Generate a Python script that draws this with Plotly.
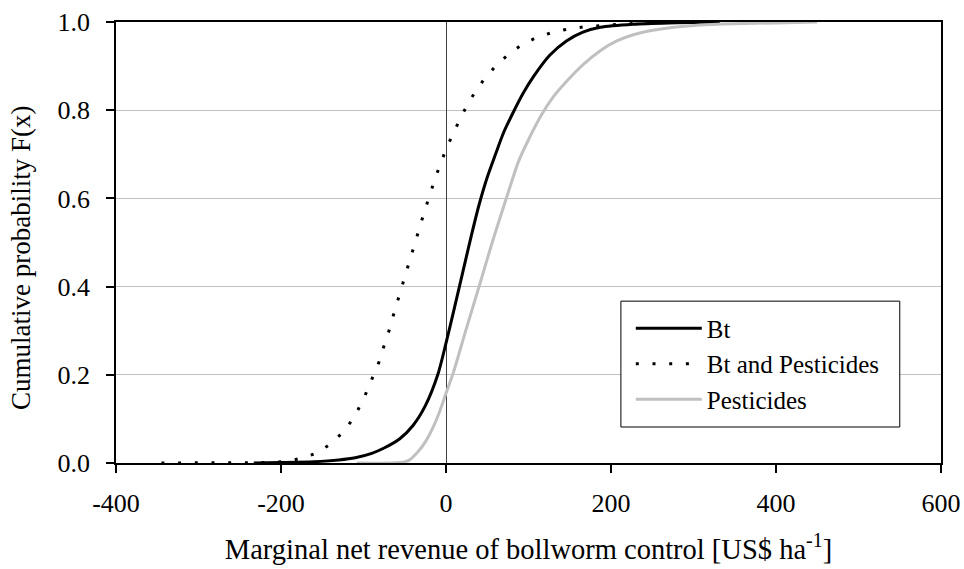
import plotly.graph_objects as go

# ---- data ----
bt_x = [-233, -200, -160, -130, -110, -90, -75, -56, -40, -25, -10, 0, 10, 20, 30, 40, 50,
        60, 70, 82, 94, 106, 126, 146, 166, 187, 227, 270, 332]
bt_y = [0.0, 0.001, 0.003, 0.007, 0.012, 0.022, 0.034, 0.055, 0.085, 0.13, 0.20, 0.272, 0.35,
        0.43, 0.51, 0.585, 0.648, 0.70, 0.75, 0.797, 0.84, 0.876, 0.925, 0.957, 0.977, 0.988,
        0.995, 0.998, 1.0]

btp_x = [-345, -230, -209, -189, -170.5, -154, -137.4, -121.6, -108.7, -98.6, -89.7, -81.6,
         -75.2, -68.7, -63, -56.6, -50.9, -44.8, -39.2, -32.7, -26.7, -20.6, -13.7, -6.5, 1.6,
         10.9, 20.6, 31.9, 45.7, 60.6, 76.4, 92.5, 109.9, 128.5, 147.5, 167, 187, 220, 260, 300]
btp_y = [0.0, 0.0, 0.001, 0.005, 0.013, 0.025, 0.047, 0.076, 0.113, 0.151, 0.189, 0.227,
         0.265, 0.302, 0.340, 0.378, 0.416, 0.454, 0.491, 0.529, 0.567, 0.605, 0.642, 0.680, 0.718,
         0.756, 0.794, 0.831, 0.869, 0.901, 0.928, 0.949, 0.965, 0.976, 0.984, 0.989, 0.992, 0.996,
         0.999, 1.0]

pest_x = [-108, -56, -45, -35.6, -25, -15.4, -8, 0, 8.9, 24.2, 40.4, 56, 72.7, 88, 100, 116,
          130, 146, 166.5, 187, 207, 227, 247, 267, 308, 348, 400, 450]
pest_y = [0.0, 0.001, 0.006, 0.022, 0.048, 0.082, 0.115, 0.158, 0.205, 0.302, 0.402, 0.50,
          0.598, 0.684, 0.733, 0.790, 0.830, 0.865, 0.904, 0.935, 0.957, 0.971, 0.980, 0.986,
          0.993, 0.996, 0.998, 1.0]

x_ticks = [-400, -200, 0, 200, 400, 600]
x_tick_labels = ["-400", "-200", "0", "200", "400", "600"]
y_ticks = [0.0, 0.2, 0.4, 0.6, 0.8, 1.0]
y_tick_labels = ["0.0", "0.2", "0.4", "0.6", "0.8", "1.0"]

FONT = "Liberation Serif"

fig = go.Figure()
fig.add_trace(go.Scatter(x=bt_x, y=bt_y, mode="lines", name="Bt",
                         line=dict(color="black", width=3, shape="spline", smoothing=0.8)))
fig.add_trace(go.Scatter(x=btp_x, y=btp_y, mode="lines", name="Bt and Pesticides",
                         line=dict(color="black", width=3, dash="3px,13.7px")))
fig.add_trace(go.Scatter(x=pest_x, y=pest_y, mode="lines", name="Pesticides",
                         line=dict(color="#c0c0c0", width=3, shape="spline", smoothing=0.8)))

fig.update_layout(
    template="none",
    width=964, height=569,
    margin=dict(l=116, r=23, t=22, b=106),
    paper_bgcolor="white", plot_bgcolor="white",
    font=dict(family=FONT, size=26, color="black"),
    showlegend=True,
    legend=dict(x=0.624, y=0.2245, xanchor="left", yanchor="middle",
                borderwidth=0, bgcolor="rgba(0,0,0,0)",
                font=dict(family=FONT, size=25), tracegroupgap=0,
                itemwidth=66),
    shapes=[dict(type="rect", xref="paper", yref="paper",
                 x0=0.612, x1=0.950, y0=0.0816, y1=0.367,
                 line=dict(color="black", width=1), fillcolor="white", layer="above")],
    xaxis=dict(range=[-400, 600], tickvals=x_ticks, ticktext=x_tick_labels,
               automargin=False,
               showgrid=False, zeroline=True, zerolinecolor="#404040", zerolinewidth=1,
               showline=True, linecolor="black", linewidth=1.5, mirror=True,
               ticks="outside", ticklen=8, tickcolor="black", tickwidth=1.5,
               ticklabelstandoff=8,
               tickfont=dict(family=FONT, size=26),
               title=dict(text="Marginal net revenue of bollworm control [US$ ha<sup>-1</sup>]",
                          font=dict(family=FONT, size=28.5), standoff=22)),
    yaxis=dict(range=[0, 1], tickvals=y_ticks, ticktext=y_tick_labels,
               automargin=False,
               showgrid=True, gridcolor="#c0c0c0", gridwidth=1, zeroline=False,
               showline=True, linecolor="black", linewidth=1.5, mirror=True,
               ticks="outside", ticklen=8, tickcolor="black", tickwidth=1.5,
               ticklabelstandoff=11,
               tickfont=dict(family=FONT, size=26)),
    annotations=[dict(text="Cumulative probability F(x)", textangle=-90,
                      xref="paper", yref="paper", x=-0.1152, y=0.465,
                      xanchor="center", yanchor="middle", showarrow=False,
                      font=dict(family=FONT, size=27))],
)

# remove the default page margin so the 964x569 figure fills the window exactly
fig.write_html("out.html",
               config={"displayModeBar": False},
               post_script="document.body.style.margin='0';"
                           "document.body.style.overflow='hidden';")
